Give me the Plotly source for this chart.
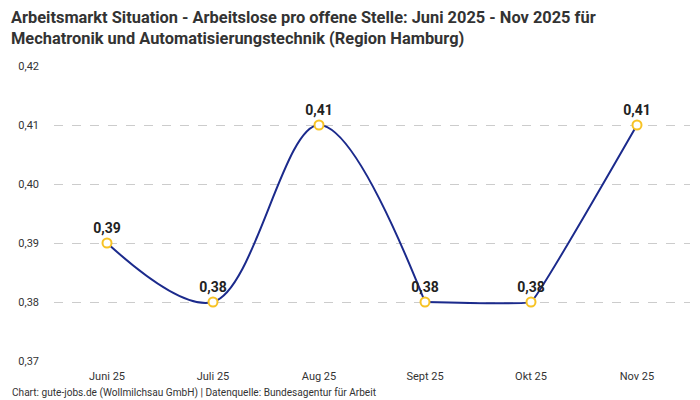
import plotly.graph_objects as go

months = ["Juni 25", "Juli 25", "Aug 25", "Sept 25", "Okt 25", "Nov 25"]
ratio = [0.39, 0.38, 0.41, 0.38, 0.38, 0.41]
y_ticks = [0.37, 0.38, 0.39, 0.40, 0.41, 0.42]

title_text = (
    "<b>Arbeitsmarkt Situation - Arbeitslose pro offene Stelle: Juni 2025 - Nov 2025 für<br>"
    "Mechatronik und Automatisierungstechnik (Region Hamburg)</b>"
)
source_text = "Chart: gute-jobs.de (Wollmilchsau GmbH) | Datenquelle: Bundesagentur für Arbeit"

font_family = "Roboto, 'Noto Sans', sans-serif"
line_color = "#1b2a8c"
text_x = -0.069


def de(v):
    return f"{v:.2f}".replace(".", ",")


fig = go.Figure()

# curved part up to Sept, flat/straight part after (values repeat there)
fig.add_trace(
    go.Scatter(
        x=months[:4],
        y=ratio[:4],
        mode="lines",
        line=dict(color=line_color, width=2, shape="spline", smoothing=1),
        hoverinfo="skip",
    )
)
fig.add_trace(
    go.Scatter(
        x=months[3:],
        y=ratio[3:],
        mode="lines",
        line=dict(color=line_color, width=2, shape="spline", smoothing=0.15),
        hoverinfo="skip",
    )
)
fig.add_trace(
    go.Scatter(
        x=months,
        y=ratio,
        mode="markers+text",
        marker=dict(size=9, color="white", line=dict(color="#f7c325", width=2)),
        text=[de(v) for v in ratio],
        textposition="top center",
        textfont=dict(size=14, color="#222222", family=font_family, weight="bold"),
        cliponaxis=False,
        hoverinfo="x+y",
    )
)

fig.update_layout(
    width=692,
    height=392,
    margin=dict(l=40, r=10, t=58, b=39),
    paper_bgcolor="white",
    plot_bgcolor="white",
    separators=",.",
    showlegend=False,
    font=dict(family=font_family, color="#333333"),
    xaxis=dict(
        type="category",
        range=[-0.5, 5.5],
        showgrid=False,
        showline=False,
        zeroline=False,
        ticks="",
        ticklabelstandoff=7,
        tickfont=dict(size=11, color="#333333"),
    ),
    yaxis=dict(
        range=[0.37, 0.42],
        tickvals=y_ticks,
        ticktext=[de(v) for v in y_ticks],
        showgrid=True,
        gridcolor="#cccccc",
        griddash="dash",
        gridwidth=1,
        zeroline=False,
        showline=False,
        ticks="",
        ticklabelstandoff=14,
        tickfont=dict(size=11, color="#333333"),
    ),
    annotations=[
        dict(
            text=title_text,
            xref="paper",
            yref="paper",
            x=text_x,
            y=1.13,
            xanchor="left",
            yanchor="middle",
            align="left",
            showarrow=False,
            borderpad=0,
            font=dict(size=16.4, color="#333333", family=font_family),
        ),
        dict(
            text=source_text,
            xref="paper",
            yref="paper",
            x=text_x,
            y=-0.108,
            xanchor="left",
            yanchor="middle",
            showarrow=False,
            font=dict(size=10.1, color="#333333", family=font_family),
        ),
    ],
)

fig.write_html("out.html")
